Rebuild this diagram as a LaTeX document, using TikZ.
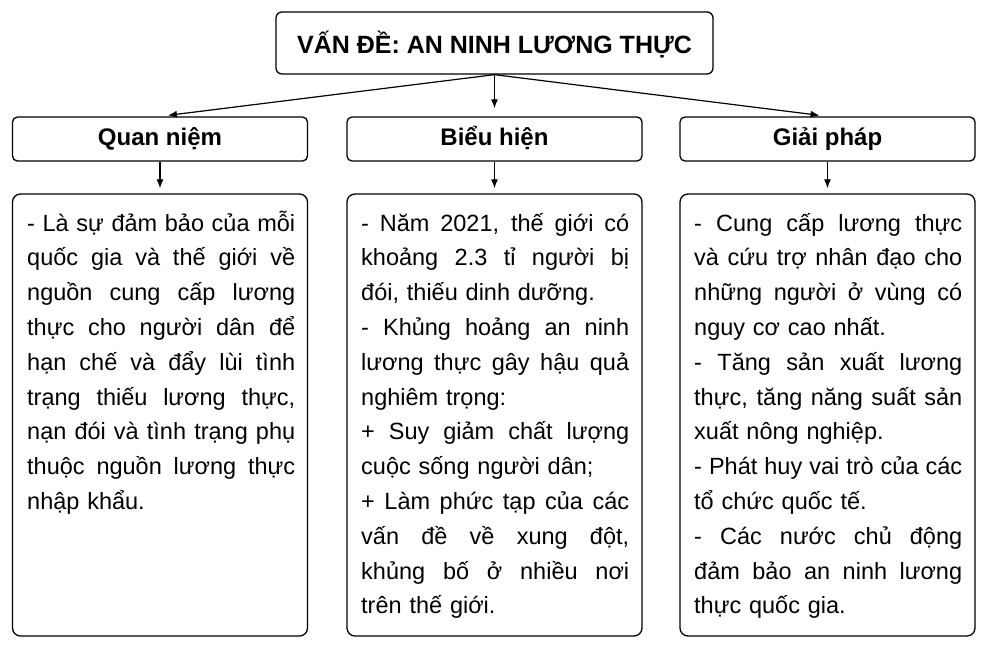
\documentclass[tikz,border=0pt]{standalone}
\usepackage{fontspec}
\setmainfont{Liberation Sans}
\usetikzlibrary{arrows.meta}
% dong can deu hai le
\newcommand{\dong}[1]{\leavevmode\hbox to 268pt{\spaceskip=0.278em plus 1em minus 0.09em\relax #1}}

\begin{document}
\begin{tikzpicture}[x=1pt,y=-1pt,
  every node/.style={inner sep=0pt},
  titlebox/.style={draw, line width=1.3pt, rounded corners=6pt, minimum width=437pt, minimum height=62pt,
    font=\bfseries\fontsize{25}{30}\selectfont, text height=21pt, text depth=0pt},
  headbox/.style={draw, line width=1.3pt, rounded corners=5pt, minimum width=295pt, minimum height=44pt,
    font=\bfseries\fontsize{24}{28}\selectfont, text height=17pt, text depth=4pt},
  framebox/.style={draw, line width=1.3pt, rounded corners=8pt, minimum width=295pt, minimum height=442pt},
  bodytext/.style={anchor=base west, text width=268pt, align=left, font=\fontsize{23.5}{34.8}\selectfont},
  arrowline/.style={-{Latex[length=9pt,width=7pt]}, line width=1.2pt}]
\useasboundingbox (0,0) rectangle (988,646);

\node[titlebox] (problem) at (494.5,43) {VẤN ĐỀ: AN NINH LƯƠNG THỰC};

\node[headbox] (viewhead) at (160,139) {Quan niệm};
\node[headbox] (signhead) at (494.5,139) {Biểu hiện};
\node[headbox] (fixhead) at (827.5,139) {Giải pháp};

\node[framebox] (viewbox) at (160,415) {};
\node[framebox] (signbox) at (494.5,415) {};
\node[framebox] (fixbox) at (827.5,415) {};

\node[bodytext] (viewtext) at (27,231) {\dong{- Là sự đảm bảo của mỗi}\\
\dong{quốc gia và thế giới về}\\
\dong{nguồn cung cấp lương}\\
\dong{thực cho người dân để}\\
\dong{hạn chế và đẩy lùi tình}\\
\dong{trạng thiếu lương thực,}\\
\dong{nạn đói và tình trạng phụ}\\
\dong{thuộc nguồn lương thực}\\
nhập khẩu.};

\node[bodytext] (signtext) at (361,231) {\dong{- Năm 2021, thế giới có}\\
\dong{khoảng 2.3 tỉ người bị}\\
đói, thiếu dinh dưỡng.\\
\dong{- Khủng hoảng an ninh}\\
\dong{lương thực gây hậu quả}\\
nghiêm trọng:\\
\dong{+ Suy giảm chất lượng}\\
cuộc sống người dân;\\
\dong{+ Làm phức tạp của các}\\
\dong{vấn đề về xung đột,}\\
\dong{khủng bố ở nhiều nơi}\\
trên thế giới.};

\node[bodytext] (fixtext) at (694,231) {\dong{- Cung cấp lương thực}\\
\dong{và cứu trợ nhân đạo cho}\\
\dong{những người ở vùng có}\\
nguy cơ cao nhất.\\
\dong{- Tăng sản xuất lương}\\
\dong{thực, tăng năng suất sản}\\
xuất nông nghiệp.\\
\dong{- Phát huy vai trò của các}\\
tổ chức quốc tế.\\
\dong{- Các nước chủ động}\\
\dong{đảm bảo an ninh lương}\\
thực quốc gia.};

% mui ten
\draw[arrowline, shorten >=8pt] (problem.south) -- (viewhead.north);
\draw[arrowline, shorten >=8pt] (problem.south) -- (signhead.north);
\draw[arrowline, shorten >=8pt] (problem.south) -- (fixhead.north);
\draw[arrowline, shorten >=5pt] (viewhead.south) -- (viewbox.north);
\draw[arrowline, shorten >=5pt] (signhead.south) -- (signbox.north);
\draw[arrowline, shorten >=5pt] (fixhead.south) -- (fixbox.north);
\end{tikzpicture}
\end{document}
